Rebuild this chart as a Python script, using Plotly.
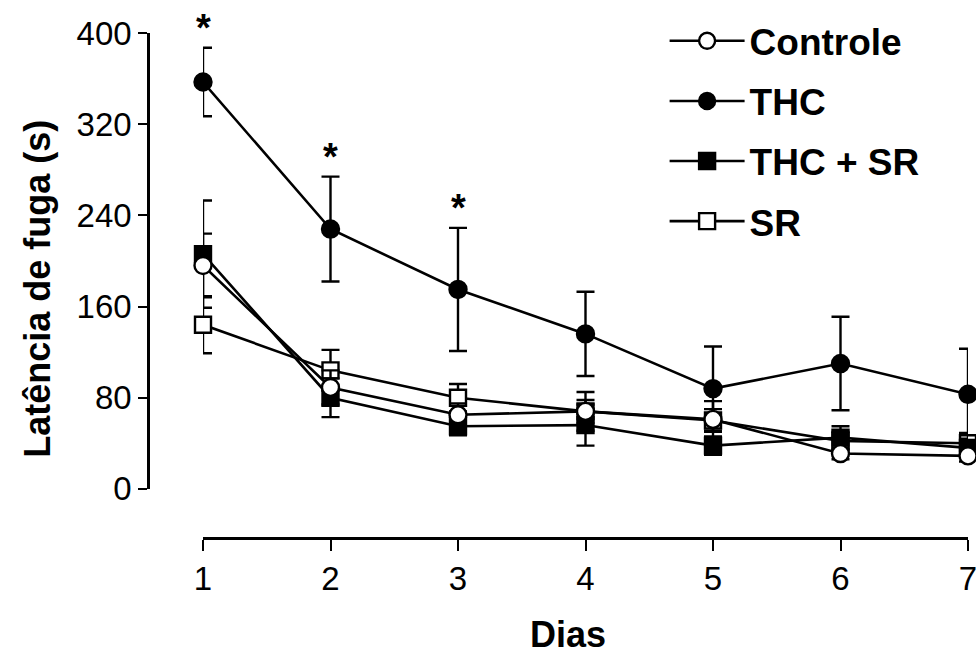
import plotly.graph_objects as go

# Escape latency (s) per training day, mean and SEM for each group
dias = [1, 2, 3, 4, 5, 6, 7]

controle = [196, 89, 65, 68, 61, 31, 29]
controle_sem = [28, 15, 10, 17, 16, 5, 5]

thc = [357, 228, 175, 136, 88, 110, 83]
thc_sem = [30, 46, 54, 37, 37, 41, 40]

thc_sr = [206, 80, 55, 56, 38, 45, 36]
thc_sr_sem = [47, 17, 8, 18, 8, 10, 8]

sr = [144, 104, 80, 68, 60, 42, 40]
sr_sem = [25, 18, 12, 10, 10, 8, 9]

# days where THC differs significantly
signif_days = [1, 2, 3]

y_ticks = [0, 80, 160, 240, 320, 400]

FONT = "Liberation Sans, Arial, sans-serif"
BLACK = "black"

series = [
    # name, values, sem, symbol, fill, legend rank
    ("SR", sr, sr_sem, "square", "white", 4),
    ("THC + SR", thc_sr, thc_sr_sem, "square", BLACK, 3),
    ("THC", thc, thc_sem, "circle", BLACK, 2),
    ("Controle", controle, controle_sem, "circle", "white", 1),
]

fig = go.Figure()
for name, vals, sem, sym, fill, rank in series:
    fig.add_trace(go.Scatter(
        x=dias, y=vals, name=name, mode="lines+markers",
        legendrank=rank, legendgroup=name,
        line=dict(color=BLACK, width=2.6),
        marker=dict(symbol=sym, size=17 if sym == "circle" else 16,
                    color=fill, line=dict(color=BLACK, width=2.4)),
        error_y=dict(type="data", array=sem, visible=True,
                     color=BLACK, thickness=2.4, width=9),
        cliponaxis=False,
    ))

# significance asterisks above the THC error bars
for d in signif_days:
    i = dias.index(d)
    fig.add_annotation(x=d, y=thc[i] + thc_sem[i], text="<b>*</b>",
                       showarrow=False, yanchor="bottom", yshift=-3,
                       font=dict(family=FONT, size=38, color=BLACK))

# axis titles
fig.add_annotation(x=0.512, y=-119 / 504, xref="paper", yref="paper",
                   text="<b>Dias</b>", showarrow=False,
                   xanchor="center", yanchor="bottom",
                   font=dict(family=FONT, size=36, color=BLACK))
fig.add_annotation(x=-0.135, y=0.494, xref="paper", yref="paper",
                   text="<b>Latência de fuga (s)</b>", showarrow=False,
                   textangle=-90, xanchor="center", yanchor="middle",
                   font=dict(family=FONT, size=36, color=BLACK))

fig.update_layout(
    width=976, height=657,
    margin=dict(l=148, r=8, t=33, b=119, autoexpand=False),
    paper_bgcolor="white", plot_bgcolor="white",
    font=dict(family=FONT, size=33, color=BLACK),
    showlegend=True,
    legend=dict(x=0.63, y=1.045, xanchor="left", yanchor="top",
                traceorder="grouped", tracegroupgap=9,
                itemwidth=75, bgcolor="rgba(0,0,0,0)",
                font=dict(family=FONT, size=37, color=BLACK, weight="bold")),
    xaxis=dict(
        range=[1, 7], domain=[55 / 820, 1],
        anchor="free", position=0, automargin=False,
        tickvals=dias, ticktext=[str(d) for d in dias],
        ticklabeloverflow="allow",
        showline=True, linecolor=BLACK, linewidth=2.6,
        ticks="outside", ticklen=11, tickwidth=2.2, tickcolor=BLACK,
        showgrid=False, zeroline=False,
        tickfont=dict(family=FONT, size=33, color=BLACK),
    ),
    yaxis=dict(
        range=[0, 400], domain=[49 / 504, 1],
        anchor="free", position=0, automargin=False,
        tickvals=y_ticks,
        showline=True, linecolor=BLACK, linewidth=2.6,
        ticks="outside", ticklen=9, tickwidth=2.2, tickcolor=BLACK,
        showgrid=False, zeroline=False,
        tickfont=dict(family=FONT, size=33, color=BLACK),
    ),
)

fig.write_html("out.html")
